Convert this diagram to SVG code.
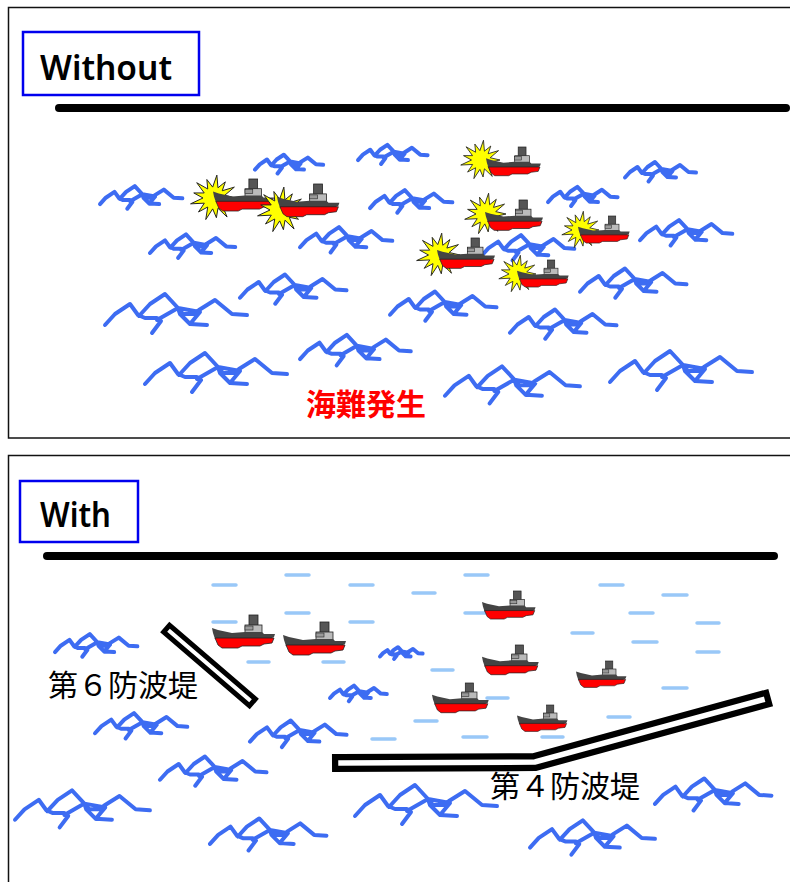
<svg xmlns="http://www.w3.org/2000/svg" xmlns:xlink="http://www.w3.org/1999/xlink" width="790" height="882" viewBox="0 0 790 882">
  <style>
    .frame { fill: #fff; stroke: #111; stroke-width: 1.5; }
    .title-box { fill: #fff; stroke: #0000ee; stroke-width: 2.5; }
    .title { font-family: "Noto Sans", "Liberation Sans", sans-serif; font-size: 34px; font-weight: 600; fill: #000; }
    .coast { stroke: #000; stroke-width: 8; stroke-linecap: round; fill: none; }
    .wave { fill: none; stroke: #3d6cf2; stroke-width: 4; stroke-linecap: round; stroke-linejoin: round; }
    .calm { stroke: #99c8f8; stroke-width: 3.5; stroke-linecap: round; }
    .label { font-family: "Noto Sans CJK JP", "Noto Sans", sans-serif; font-size: 30px; fill: #000; }
    .alert { font-family: "Noto Sans CJK JP", "Noto Sans", sans-serif; font-size: 30px; font-weight: 700; fill: #ff0000; }
    .wall-out { fill: none; stroke: #000; stroke-linecap: square; stroke-linejoin: miter; }
    .wall-in { fill: none; stroke: #fff; stroke-linecap: square; stroke-linejoin: miter; }
  </style>
  <defs>
    <!-- rough sea: a tangle of zig-zag crests; stroke keeps its width at any scale -->
    <path id="wave" vector-effect="non-scaling-stroke" d="M0,45 L10,34 L25,24 L33,35 L40,38 L52,38 L56,41 L47,53 M34,36 L45,24 L60,14 L73,28 L78,34 L90,34 L94,30 L110,20 L127,34 L142,35 M52,40 L73,28 L75,34 L85,44 L102,45 M73,28 L95,32 L85,44"/>
    <!-- small warship, bow to the left -->
    <g id="ship">
      <rect x="37" y="0" width="9" height="11" fill="#555" stroke="#222" stroke-width="0.8"/>
      <rect x="33" y="10" width="17" height="8" fill="#bbb" stroke="#222" stroke-width="0.8"/>
      <rect x="33" y="11" width="8" height="4" fill="#999" stroke="#222" stroke-width="0.6"/>
      <path d="M0,13 L6,15 L20,18 L33,17 L50,17 L52,19 L63,19 L62,22 L58,24 L3,24 L1,18 Z" fill="#444"/>
      <path d="M3,23 L62,23 L60,28 L52,29 L48,31 L30,31 L26,33 L10,33 L6,30 Z" fill="#ff0000" stroke="#222" stroke-width="0.8"/>
    </g>
    <!-- explosion burst -->
    <path id="burst" d="M20,0 L9.7,2.4 L15.9,8.4 L7.5,6.6 L11.9,17.3 L3.6,9.3 L2.2,17.9 L-1.2,9.9 L-7.5,19.6 L-5.7,8.2 L-14.1,12.7 L-8.8,4.7 L-21.3,5.3 L-10,0 L-18.4,-4.6 L-8.9,-4.6 L-15.7,-13.9 L-5.7,-8.2 L-6.5,-16.8 L-1.2,-9.9 L2.6,-20.8 L3.6,-9.3 L10.3,-14.7 L7.5,-6.6 L18.5,-9.9 L9.7,-2.4 Z" fill="#ffff00" stroke="#222" stroke-width="0.9" stroke-linejoin="miter"/>
  </defs>

  <!-- ===== upper panel: no breakwater ===== -->
  <g id="panel-without">
    <rect class="frame" x="8.5" y="7.5" width="790" height="430.5"/>
    <g id="title-without">
      <rect class="title-box" x="23" y="32" width="176" height="63"/>
      <text class="title" x="40" y="80" textLength="132" lengthAdjust="spacingAndGlyphs">Without</text>
    </g>
    <line id="coast-without" class="coast" x1="59" y1="108" x2="786" y2="108"/>
    <g id="sea-without" class="wave">
      <use href="#wave" transform="translate(100,178) scale(0.58)"/>
      <use href="#wave" transform="translate(255,148) scale(0.48)"/>
      <use href="#wave" transform="translate(358,138) scale(0.49)"/>
      <use href="#wave" transform="translate(150,226) scale(0.6)"/>
      <use href="#wave" transform="translate(300,218) scale(0.65)"/>
      <use href="#wave" transform="translate(370,182) scale(0.58)"/>
      <use href="#wave" transform="translate(548,180) scale(0.49)"/>
      <use href="#wave" transform="translate(625,155) scale(0.5)"/>
      <use href="#wave" transform="translate(640,211) scale(0.65)"/>
      <use href="#wave" transform="translate(482,226) scale(0.65)"/>
      <use href="#wave" transform="translate(240,264) scale(0.75)"/>
      <use href="#wave" transform="translate(105,280) scale(1.0)"/>
      <use href="#wave" transform="translate(390,281) scale(0.75)"/>
      <use href="#wave" transform="translate(580,258) scale(0.75)"/>
      <use href="#wave" transform="translate(510,299) scale(0.75)"/>
      <use href="#wave" transform="translate(300,324) scale(0.78)"/>
      <use href="#wave" transform="translate(145,339) scale(1.0)"/>
      <use href="#wave" transform="translate(445,353) scale(0.95)"/>
      <use href="#wave" transform="translate(610,337) scale(1.0)"/>
    </g>
    <g id="wrecks">
      <g id="wreck-1"><use href="#burst" transform="translate(214,198) scale(1.1)"/><use href="#ship" transform="translate(213,179) scale(0.97)"/></g>
      <g id="wreck-2"><use href="#burst" transform="translate(281,210) scale(1.1)"/><use href="#ship" transform="translate(277,184) scale(0.99)"/></g>
      <g id="wreck-3"><use href="#burst" transform="translate(481,160) scale(0.95)"/><use href="#ship" transform="translate(486,147) scale(0.87)"/></g>
      <g id="wreck-4"><use href="#burst" transform="translate(486,214) scale(1.0)"/><use href="#ship" transform="translate(485,200) scale(0.92)"/></g>
      <g id="wreck-5"><use href="#burst" transform="translate(581,230) scale(0.9)"/><use href="#ship" transform="translate(578,216) scale(0.82)"/></g>
      <g id="wreck-6"><use href="#burst" transform="translate(439,255) scale(1.05)"/><use href="#ship" transform="translate(437,238) scale(0.92)"/></g>
      <g id="wreck-7"><use href="#burst" transform="translate(518,274) scale(0.9)"/><use href="#ship" transform="translate(517,260) scale(0.82)"/></g>
    </g>
    <text id="label-accident" class="alert" x="366" y="415" text-anchor="middle">海難発生</text>
  </g>

  <!-- ===== lower panel: with breakwaters ===== -->
  <g id="panel-with">
    <rect class="frame" x="8.5" y="455.5" width="790" height="440"/>
    <g id="title-with">
      <rect class="title-box" x="20" y="481" width="118" height="61"/>
      <text class="title" x="40" y="527" textLength="71" lengthAdjust="spacingAndGlyphs">With</text>
    </g>
    <line id="coast-with" class="coast" x1="47" y1="556" x2="774" y2="556"/>
    <g id="calm-water" class="calm">
      <line x1="213" y1="585" x2="236" y2="585"/>
      <line x1="286" y1="575" x2="309" y2="575"/>
      <line x1="350" y1="585" x2="373" y2="585"/>
      <line x1="413" y1="593" x2="435" y2="593"/>
      <line x1="465" y1="575" x2="488" y2="575"/>
      <line x1="600" y1="585" x2="623" y2="585"/>
      <line x1="663" y1="595" x2="687" y2="595"/>
      <line x1="213" y1="622" x2="236" y2="622"/>
      <line x1="286" y1="613" x2="309" y2="613"/>
      <line x1="350" y1="622" x2="373" y2="622"/>
      <line x1="465" y1="613" x2="487" y2="613"/>
      <line x1="630" y1="613" x2="653" y2="613"/>
      <line x1="697" y1="623" x2="719" y2="623"/>
      <line x1="572" y1="633" x2="593" y2="633"/>
      <line x1="633" y1="642" x2="657" y2="642"/>
      <line x1="697" y1="652" x2="719" y2="652"/>
      <line x1="248" y1="662" x2="269" y2="662"/>
      <line x1="323" y1="662" x2="344" y2="662"/>
      <line x1="432" y1="670" x2="453" y2="670"/>
      <line x1="663" y1="688" x2="687" y2="688"/>
      <line x1="487" y1="698" x2="508" y2="698"/>
      <line x1="415" y1="721" x2="437" y2="721"/>
      <line x1="608" y1="717" x2="630" y2="717"/>
      <line x1="372" y1="739" x2="395" y2="739"/>
      <line x1="463" y1="737" x2="487" y2="737"/>
      <line x1="542" y1="737" x2="563" y2="737"/>
    </g>
    <g id="sea-with" class="wave">
      <use href="#wave" transform="translate(55,626) scale(0.58)"/>
      <use href="#wave" transform="translate(380,643) scale(0.3)"/>
      <use href="#wave" transform="translate(330,680) scale(0.4)"/>
      <use href="#wave" transform="translate(95,704) scale(0.65)"/>
      <use href="#wave" transform="translate(250,711) scale(0.68)"/>
      <use href="#wave" transform="translate(160,746) scale(0.75)"/>
      <use href="#wave" transform="translate(15,777) scale(0.95)"/>
      <use href="#wave" transform="translate(355,771) scale(1.0)"/>
      <use href="#wave" transform="translate(210,807) scale(0.82)"/>
      <use href="#wave" transform="translate(530,808) scale(0.88)"/>
      <use href="#wave" transform="translate(655,767) scale(0.82)"/>
    </g>
    <g id="breakwater-6">
      <line class="wall-out" x1="170" y1="631.5" x2="249" y2="699.5" stroke-width="14"/>
      <line class="wall-in" x1="170" y1="631.5" x2="249" y2="699.5" stroke-width="4"/>
    </g>
    <g id="breakwater-4">
      <path class="wall-out" d="M341,763 L535,762 L762,700" stroke-width="18"/>
      <path class="wall-in" d="M341,763 L535,762 L762,700" stroke-width="5.5"/>
    </g>
    <g id="anchored-ships">
      <use href="#ship" transform="translate(212,615) scale(1.0)"/>
      <use href="#ship" transform="translate(283,622) scale(1.0)"/>
      <use href="#ship" transform="translate(482,591) scale(0.85)"/>
      <use href="#ship" transform="translate(482,645) scale(0.9)"/>
      <use href="#ship" transform="translate(576,661) scale(0.8)"/>
      <use href="#ship" transform="translate(432,683) scale(0.9)"/>
      <use href="#ship" transform="translate(517,705) scale(0.8)"/>
    </g>
    <text id="label-bw6" class="label" x="48" y="696">第６防波堤</text>
    <text id="label-bw4" class="label" x="490" y="797">第４防波堤</text>
  </g>
</svg>
